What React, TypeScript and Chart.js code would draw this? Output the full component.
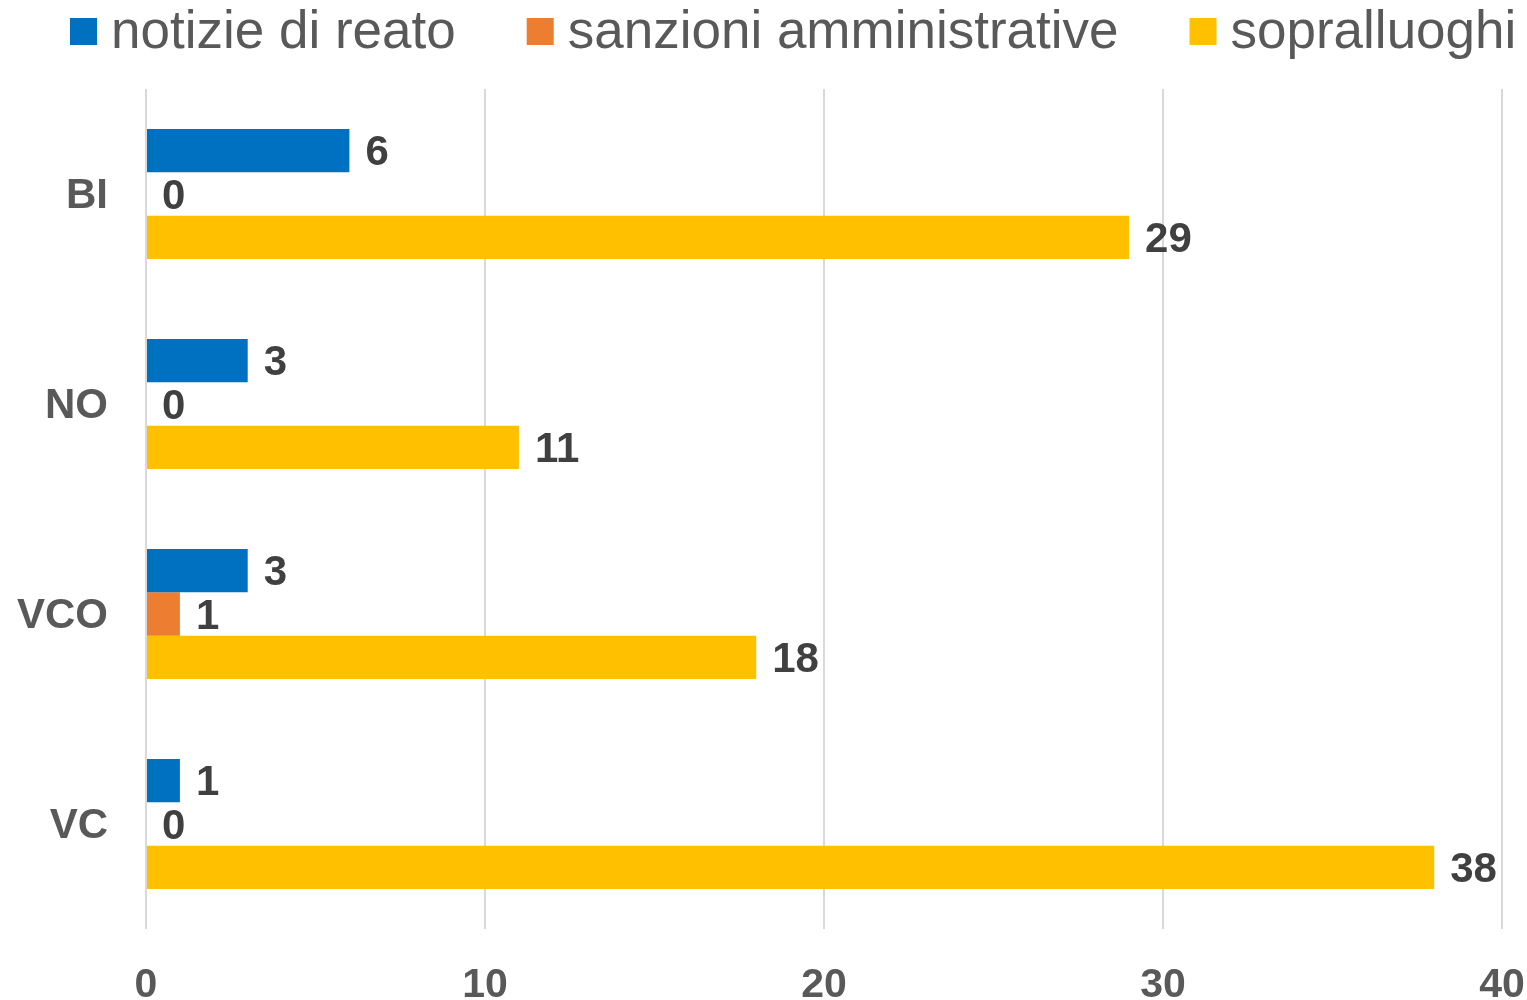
import React, { useEffect, useRef } from "react";
import { Chart, registerables } from "chart.js";

Chart.register(...registerables);

const categories = ["BI", "NO", "VCO", "VC"];
const notizieDiReato = [6, 3, 3, 1];
const sanzioniAmministrative = [0, 0, 1, 0];
const sopralluoghi = [29, 11, 18, 38];
const xTicks = [0, 10, 20, 30, 40];

const seriesNames = ["notizie di reato", "sanzioni amministrative", "sopralluoghi"];
const seriesColors = ["#0070C0", "#ED7D31", "#FFC000"];

const FONT = "'Liberation Sans', Arial, sans-serif";

const dataLabelPlugin = {
  id: "dataLabels",
  afterDatasetsDraw(chart: any) {
    const ctx = chart.ctx;
    ctx.save();
    ctx.font = `bold 42px ${FONT}`;
    ctx.fillStyle = "#404040";
    ctx.textAlign = "left";
    ctx.textBaseline = "middle";
    chart.data.datasets.forEach((ds: any, i: number) => {
      const meta = chart.getDatasetMeta(i);
      meta.data.forEach((el: any, j: number) => {
        ctx.fillText(String(ds.data[j]), el.x + 16, el.y + 3);
      });
    });
    ctx.restore();
  },
};

const legendPlugin = {
  id: "customLegend",
  afterDraw(chart: any) {
    const ctx = chart.ctx;
    ctx.save();
    ctx.font = `53px ${FONT}`;
    ctx.textBaseline = "middle";
    ctx.textAlign = "left";
    let x = 70;
    const boxY = 18;
    const box = 27;
    seriesNames.forEach((name, i) => {
      ctx.fillStyle = seriesColors[i];
      ctx.fillRect(x, boxY, box, box);
      x += box + 14;
      ctx.fillStyle = "#595959";
      ctx.fillText(name, x, boxY + box / 2 + 2);
      x += ctx.measureText(name).width + 71;
    });
    ctx.restore();
  },
};

export default function App() {
  const ref = useRef<HTMLCanvasElement | null>(null);

  useEffect(() => {
    if (!ref.current) return;
    const chart = new Chart(ref.current, {
      type: "bar",
      data: {
        labels: categories,
        datasets: [
          { label: seriesNames[0], data: notizieDiReato, backgroundColor: seriesColors[0] },
          { label: seriesNames[1], data: sanzioniAmministrative, backgroundColor: seriesColors[1] },
          { label: seriesNames[2], data: sopralluoghi, backgroundColor: seriesColors[2] },
        ],
      },
      options: {
        indexAxis: "y",
        animation: false,
        responsive: false,
        maintainAspectRatio: false,
        devicePixelRatio: 1,
        layout: { padding: { top: 89, right: 25, left: 0, bottom: 0 } },
        datasets: {
          bar: { categoryPercentage: 0.62, barPercentage: 1 },
        },
        plugins: {
          legend: { display: false },
          tooltip: { enabled: false },
        },
        scales: {
          x: {
            min: 0,
            max: 40,
            afterBuildTicks: (s: any) => {
              s.ticks = xTicks.map((v) => ({ value: v }));
            },
            afterFit: (s: any) => {
              s.height = 71;
              s.paddingLeft = 0;
              s.paddingRight = 0;
            },
            grid: { color: "#D9D9D9", lineWidth: 2, drawTicks: false },
            border: { display: false },
            ticks: {
              padding: 32,
              color: "#595959",
              font: { family: FONT, size: 41, weight: "bold" },
            },
          },
          y: {
            afterFit: (s: any) => {
              s.width = 146;
              s.paddingTop = 0;
              s.paddingBottom = 0;
            },
            grid: { display: false, drawTicks: false },
            border: { display: false },
            ticks: {
              padding: 38,
              labelOffset: 2,
              color: "#595959",
              font: { family: FONT, size: 42, weight: "bold" },
            },
          },
        },
      },
      plugins: [dataLabelPlugin, legendPlugin],
    } as any);
    return () => chart.destroy();
  }, []);

  return (
    <div style={{ position: "absolute", left: 0, top: 0, width: 1527, height: 1000, background: "#fff" }}>
      <canvas ref={ref} width={1527} height={1000} style={{ width: 1527, height: 1000 }} />
    </div>
  );
}
